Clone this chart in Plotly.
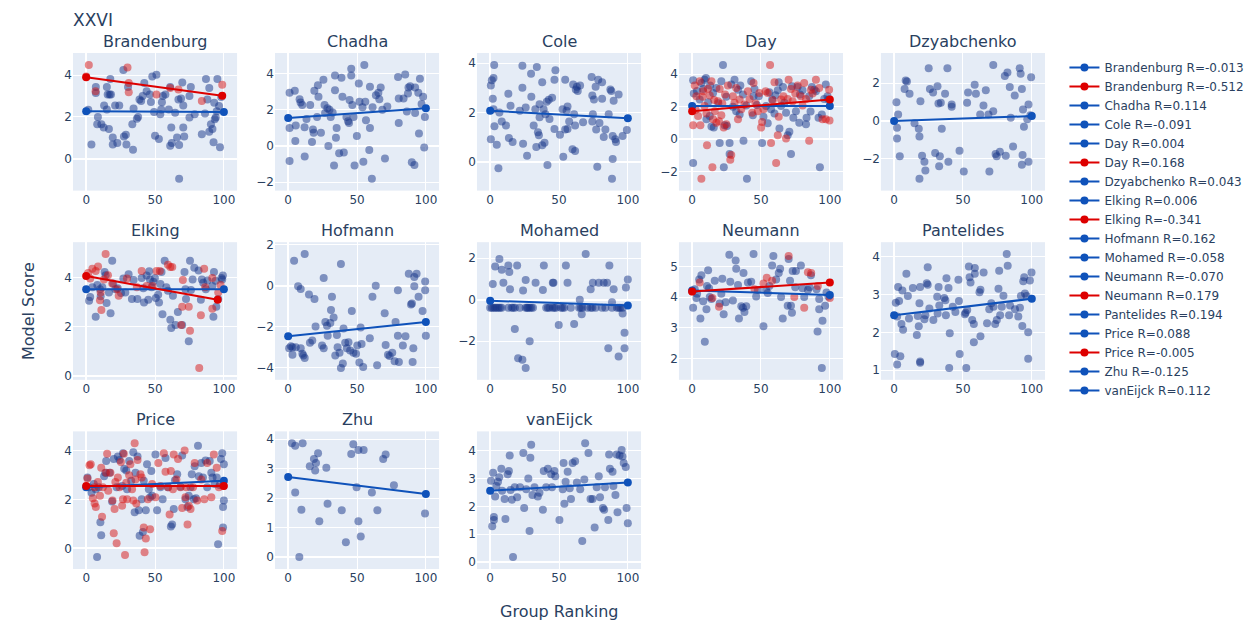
import plotly.graph_objects as go
from plotly.subplots import make_subplots

panels = ["Brandenburg", "Chadha", "Cole", "Day", "Dzyabchenko", "Elking", "Hofmann",
          "Mohamed", "Neumann", "Pantelides", "Price", "Zhu", "vanEijck"]

# ---- scatter points (Group Ranking, Model Score) ----
brandenburg_a = [(1.5,2.35),(3.8,0.68),(7,3.43),(7,3.15),(8.5,2.0),(8,1.65),(11,1.65),(12.7,1.5),(13,2.55),(15,3.43),(15.6,3.07),(17,3.07),(15,2.36),(16.5,1.42),(17.5,3.81),(18,3.07),(19.3,1.02),(19.3,0.68),(21,2.55),(22.6,0.76),(24,2.55),(27,4.25),(27.4,1.07),(28.8,1.15),(29.2,0.68),(30.4,3.43),(33.5,1.65),(34,0.44),(34.4,2.4),(36.8,1.92),(37.7,2.0),(38.7,2.83),(39.9,2.76),(41,3.0),(42.2,3.62),(43.9,3.23),(46.2,3.07),(47,2.72),(48,3.94),(49.3,2.24),(50,1.1),(51,4.02),(52.8,0.95),(53.8,2.13),(54.5,2.36),(55,2.7),(55.7,3.0),(57.5,3.07),(60,2.36),(61,3.43),(61.8,1.5),(61,0.63),(62.2,0.76),(64.6,2.2),(66,1.02),(67,2.83),(67.5,0.66),(67.5,-0.95),(68.9,2.88),(69.8,3.65),(70.5,1.5),(71.2,1.07),(70.5,2.55),(75,3.0),(76,3.43),(75,1.97),(78.8,2.13),(84,1.18),(86.3,2.17),(87,3.81),(88,2.83),(89.4,3.39),(89.4,1.29),(90.6,1.65),(91.7,1.42),(92.5,0.79),(93,2.68),(93.4,1.89),(94.1,1.97),(95.3,3.81),(96.5,2.52),(97.2,0.55),(98.1,2.96),(94.8,2.28)]
brandenburg_b = [(1.9,4.49),(0,3.94),(6.8,3.23),(30,4.36),(30.9,3.18),(30.9,3.62),(51,3.07),(61,3.39),(67,3.31),(84,2.76),(98.8,3.54)]

chadha_a = [(1,2.93),(1,0.99),(1,-0.83),(4.8,3.04),(5.5,1.12),(5.2,0.27),(8.3,2.57),(9,2.39),(10.2,2.26),(11.9,1.03),(12,-0.58),(13.3,1.48),(16,2.26),(17.3,0.22),(18,0.9),(18.5,0.72),(19,3.04),(21,1.59),(21.6,3.35),(22,2.71),(23.8,0.72),(25.6,3.65),(26.4,2.26),(26.8,1.81),(29.2,0.0),(28.5,2.08),(30,1.99),(30.9,1.59),(32.3,1.84),(33.3,-1.08),(34,3.89),(34,3.07),(34.7,0.45),(35.2,0.99),(37,-0.4),(38.7,3.76),(39.4,2.71),(40.4,-0.36),(42.3,1.59),(43.5,1.36),(44.2,1.27),(44.6,2.53),(45.8,4.25),(45.8,3.89),(46.6,2.26),(47.5,1.59),(48.2,-1.08),(49.9,0.54),(51.3,3.44),(51.8,2.44),(54,2.13),(54.6,-0.87),(55.3,4.47),(56,2.44),(56.5,1.41),(58.9,-0.22),(59.4,0.99),(59.4,3.26),(60.8,-1.81),(61.3,2.13),(63.7,2.8),(65.5,2.93),(66.2,2.57),(67.2,3.22),(68.4,1.99),(70.3,-0.69),(72,2.17),(79.8,3.8),(80.3,2.62),(80.3,1.27),(83.8,2.62),(85,3.94),(86.2,1.9),(87,2.89),(87.4,3.22),(88.6,3.29),(89.8,-0.9),(91.7,-1.05),(92.2,3.22),(92.2,1.81),(94.5,2.93),(95,0.69),(95.7,3.71),(96.9,2.31),(98,2.71),(98.8,-0.09),(99.3,1.59)]

cole_a = [(0.5,3.09),(1.2,3.31),(1.9,2.56),(2.9,3.93),(2.4,3.4),(0.5,0.91),(2.4,2.13),(3.1,1.44),(4.8,0.69),(6,-0.27),(6.7,2.0),(8.4,1.63),(11.5,1.47),(13.2,2.76),(13.6,0.96),(14.8,2.27),(16.3,0.8),(21.5,2.07),(23.4,3.89),(23.4,3.0),(23.9,0.73),(25.8,2.2),(26.8,0.24),(29.7,3.57),(29.9,2.64),(31.6,1.47),(32.8,2.13),(33.9,3.84),(33.5,0.6),(34.7,1.2),(35.4,1.07),(35.9,2.33),(35.9,1.8),(37.8,3.23),(37.8,0.67),(38.8,2.13),(39.5,0.77),(40.2,1.93),(41.1,2.43),(41.6,-0.13),(42.6,2.51),(43.1,1.73),(45,2.6),(46.7,1.33),(47.4,3.71),(46.7,3.33),(50.7,1.09),(52.6,2.13),(53.1,0.2),(54.5,3.33),(54.5,1.31),(55.5,2.07),(56.2,1.33),(56.2,2.24),(57.4,1.63),(59.8,0.51),(60.3,3.13),(61,1.93),(61.7,0.43),(62.2,2.93),(61.7,1.47),(63,3.04),(63.6,2.87),(65.3,3.09),(67.5,1.6),(73.7,3.44),(74.2,2.69),(74.2,1.63),(74.6,1.93),(75.4,2.53),(76.6,3.04),(77,1.31),(77.8,-0.2),(78.5,3.33),(79.4,1.57),(81.3,3.23),(81.3,2.56),(82.5,1.0),(83.7,1.31),(86.1,1.93),(87.3,2.93),(88,2.87),(89,1.04),(89,0.11),(88.5,-0.69),(89.7,2.47),(90.9,0.91),(91.4,0.8),(93.3,2.73),(96.2,1.04),(99.3,1.29)]

day_a = [(0.7,3.61),(1.2,2.8),(0.7,-1.46),(5.5,2.43),(6.7,3.45),(8,3.08),(9,3.65),(10,3.75),(10.4,1.22),(11.6,2.27),(12.8,1.42),(14,0.77),(15.2,2.84),(15.7,0.71),(17.6,3.14),(20,-0.24),(21.2,3.55),(22.4,4.56),(23,-1.72),(23.6,0.85),(24.8,2.6),(25.3,0.81),(27.2,-0.91),(27.2,-0.24),(28.4,3.35),(29.6,1.99),(30.8,3.65),(32,1.72),(33.3,3.04),(34.5,1.52),(36.9,2.74),(37.3,-0.1),(39.3,2.07),(39.8,-2.43),(42.9,3.55),(44.1,1.46),(44.6,2.64),(45.3,3.08),(48.4,2.64),(50.8,-0.24),(51.8,1.38),(53.7,2.03),(54.9,0.97),(56.1,2.88),(57.3,1.83),(58.1,2.43),(59.8,1.58),(62.2,3.0),(62.9,3.49),(63.4,0.65),(64.6,2.03),(67,2.23),(68.2,1.62),(69.4,0.24),(70.6,0.45),(71.8,-0.91),(72.5,3.25),(73.5,1.32),(75.4,1.72),(76.6,3.2),(77.8,1.01),(78.3,2.74),(80.2,3.0),(82.7,0.91),(83.1,1.32),(85,2.64),(87,3.2),(88.7,3.04),(89.9,2.94),(91.8,1.32),(92.8,-1.72),(94.2,1.52),(95.9,2.47),(97.1,3.35),(98.3,2.64),(99,2.43),(3.5,2.95),(13,3.3),(19,2.2),(35,3.3),(47,2.1),(60.5,2.7),(66,3.2),(86,1.7)]
day_b = [(0.7,0.85),(1.9,3.29),(3.1,2.64),(4.3,1.42),(5.5,3.55),(6.7,-2.43),(6,0.85),(8,2.94),(9,2.03),(10.4,1.58),(10.8,-0.37),(12.8,2.68),(14,3.55),(14.7,-1.72),(15.2,1.22),(16.4,1.72),(17.6,1.01),(18.8,2.33),(20,3.08),(21.2,1.46),(21.9,2.19),(22.9,0.71),(23.9,2.74),(24.8,0.91),(26,3.29),(27.7,-1.26),(28.4,-0.97),(29.6,2.64),(30.8,2.23),(32,3.14),(33.3,1.22),(34.5,2.43),(35.7,1.83),(38,2.13),(40.5,2.94),(41.7,2.47),(43.6,1.62),(44.6,3.45),(46,2.19),(47.7,1.72),(48.9,2.84),(50.1,0.71),(50.8,1.05),(51.8,1.83),(53.3,2.94),(54.9,2.84),(56.6,4.56),(57.3,-0.24),(58.6,2.39),(59.8,3.49),(61,-1.46),(62.2,0.24),(62.9,1.38),(64.6,2.43),(66.3,2.64),(68.2,0.04),(69.4,2.47),(70.1,3.65),(71.8,3.08),(73,2.33),(74.9,2.8),(76.6,3.29),(79,2.64),(80.2,2.07),(81.4,3.45),(82.7,2.47),(85,-0.1),(86.3,3.04),(87.5,2.8),(89.9,3.65),(92.3,3.14),(94.7,1.22),(97.1,1.22),(99.5,3.04),(99.8,1.15),(2.5,1.8),(7.5,2.6),(11.5,3.1),(16,2.4),(19.5,1.1)]

dzyabchenko_a = [(1.7,0.99),(2.1,-0.35),(2.1,-0.92),(2.9,0.35),(4.1,-1.86),(7.6,1.69),(8.4,2.14),(9.3,2.09),(11.2,1.44),(14.8,-0.12),(17.9,-0.4),(18.4,-0.82),(18.4,-3.04),(19.1,1.04),(20.3,-1.83),(22,-2.14),(22.7,-2.61),(25.1,2.78),(26,1.69),(28.3,1.51),(29.8,-1.69),(31.5,1.83),(32.2,0.92),(32.7,-2.38),(33.2,-1.86),(33.9,0.96),(34.6,-0.4),(37,1.44),(38.7,2.78),(39.4,-2.14),(41.8,0.87),(41.8,0.75),(47.5,-1.57),(50.6,-2.66),(53,0.96),(53.7,1.51),(58.5,1.91),(59.4,1.44),(62.5,0.35),(64.9,0.82),(66.6,1.62),(68.5,0.35),(69.2,-2.66),(72,2.96),(72,0.52),(73.7,-1.74),(74.5,-1.86),(76.8,-1.62),(80.4,2.38),(81.1,-1.83),(82.3,2.56),(84,1.79),(84.7,0.17),(86.4,-1.34),(87.6,1.34),(91.2,2.78),(91.9,2.49),(92.8,-2.31),(92.8,1.69),(93.3,-1.79),(93.6,0.61),(94.3,-0.3),(96.7,0.09),(97.6,0.87),(97.6,-2.14),(99,0.3),(99.5,2.31)]

elking_a = [(2.1,3.07),(2.9,3.22),(4.5,3.62),(6.9,2.42),(8.1,3.71),(10,3.54),(10.5,3.25),(11.7,3.62),(13.4,4.24),(14.1,4.11),(14.8,2.98),(16.5,3.4),(17.7,2.56),(18.9,4.7),(19.6,3.77),(21.2,3.54),(22.9,3.58),(25.3,3.38),(27,3.97),(28.4,3.4),(30.8,4.15),(33.2,3.14),(34.4,3.91),(37.2,3.14),(40.3,4.0),(41.5,3.58),(42,3.0),(43.9,4.1),(45.1,3.11),(45.8,4.27),(46.3,3.93),(47.5,3.62),(48.7,3.84),(49.9,4.0),(50.6,3.18),(52.3,3.31),(52.9,3.0),(53.9,3.75),(54.7,4.24),(55.4,2.52),(57,4.7),(58.2,3.62),(59.4,3.48),(61.1,2.29),(61.8,1.96),(63,3.27),(64.9,2.08),(66.6,2.61),(69.7,2.08),(71.4,4.24),(72.1,3.54),(72.5,3.14),(74.5,1.42),(75.4,4.7),(76.1,3.51),(77.3,3.93),(78.5,4.41),(81.6,4.3),(83.3,3.11),(84,3.93),(85,3.8),(86.9,3.54),(88.1,3.89),(91.6,3.67),(92.4,2.42),(92.8,4.24),(94,3.88),(94.5,2.82),(95.9,3.14),(98.3,4.0),(98.8,3.93),(99.3,4.1)]
elking_b = [(1.4,4.2),(2.9,3.97),(4.5,4.37),(6.9,4.28),(8.6,4.46),(10,3.09),(10.5,3.4),(11,2.69),(12.9,3.93),(14.1,4.97),(15.8,4.11),(18.9,3.77),(22.4,3.54),(23.6,3.27),(29.6,3.97),(36.8,3.62),(40.3,4.28),(43.9,3.67),(48.2,3.67),(51.1,4.28),(53.5,4.28),(59.4,4.54),(61.1,4.44),(62.5,4.44),(69,2.08),(69.7,2.82),(70.2,3.91),(74.5,2.82),(75.4,1.85),(82.1,0.33),(83.3,2.48),(85.7,4.37),(86.4,3.62),(91.6,2.74),(91.6,4.0),(95.9,3.4),(97.6,3.71)]

hofmann_a = [(0.7,-3.04),(1.9,-2.94),(3.1,-2.99),(3.1,-3.36),(4.3,1.22),(5.5,-2.99),(7.2,-0.03),(9.1,-0.16),(9.1,-3.04),(10.3,-3.31),(11,-3.39),(12,-3.52),(12,1.54),(15.1,-0.43),(15.8,-2.78),(17.5,-2.67),(19.1,-0.64),(19.9,-1.98),(24.6,-2.91),(25.8,0.37),(25.8,-3.04),(27,-1.76),(28.2,-1.95),(28.7,-2.43),(30.6,-1.82),(31.8,-0.54),(31.1,-1.18),(33,-1.55),(34.2,-3.39),(35.4,-2.4),(35.9,-2.99),(37.3,-3.26),(38.3,1.06),(38.3,-4.0),(39.7,-3.79),(40.2,-2.08),(41.4,-2.78),(42.6,-3.04),(43.8,-2.75),(45,-3.15),(46.2,-1.23),(47.4,-3.26),(49.3,-3.31),(50.2,-2.91),(51.7,-3.74),(52.6,-2.03),(53.3,-2.83),(54.5,-3.95),(59.3,-2.56),(61.2,-0.54),(63.6,0.0),(64.6,-3.87),(70.1,-1.34),(70.8,-2.88),(72.5,-3.36),(73.7,-3.42),(75.6,-3.26),(77.3,-3.68),(78,-1.76),(79.7,-0.22),(79.7,-2.43),(80.4,-3.71),(83.3,-2.91),(85.2,-2.46),(87.6,0.58),(89.2,-0.91),(89.9,-0.86),(90.4,-3.71),(90.9,-3.04),(91.6,-0.03),(91.6,0.42),(93.3,0.58),(94.7,-0.54),(97.6,-1.23),(99.5,-0.22),(99.5,0.21),(100,-2.43)]

mohamed_a = [(1.9,0.75),(3.6,1.59),(6.7,1.95),(8.4,1.44),(9.6,0.81),(13.2,1.64),(13.9,1.33),(14.4,0.5),(17.9,-1.41),(19.6,1.64),(20.3,-2.81),(23.4,-2.89),(23.9,0.44),(25.8,0.94),(25.8,-3.28),(28.7,-2.0),(33,0.81),(38.3,0.47),(39,1.64),(45.5,0.81),(46,0.81),(49.8,-1.22),(55,1.64),(56.2,0.81),(61,-1.17),(65.1,0.0),(66.5,-0.7),(69.4,2.19),(73,0.5),(74.6,0.81),(78.9,0.81),(82.5,0.81),(84.9,0.81),(85.8,-2.34),(86.6,1.64),(88.5,-0.12),(89.7,0.5),(93.3,-2.73),(96.2,-0.66),(97.6,-2.34),(97.6,-1.59),(98.6,0.59),(100,0.97),
             (0,-0.39),(1.2,-0.39),(2.4,-0.39),(3.6,-0.39),(4.8,-0.39),(6,-0.39),(7.2,-0.39),(8.4,-0.39),(13.2,-0.39),(15.6,-0.39),(16.7,-0.39),(18,-0.39),(21.5,-0.39),(25.8,-0.39),(26.8,-0.39),(27.5,-0.39),(28.7,-0.39),(29.9,-0.39),(31.1,-0.39),(40.7,-0.39),(41.9,-0.39),(43.1,-0.39),(45.5,-0.39),(46.7,-0.39),(47.8,-0.39),(51.4,-0.39),(52.6,-0.39),(53.8,-0.39),(58.6,-0.39),(64.6,-0.39),(65.8,-0.39),(67,-0.39),(70.6,-0.39),(73,-0.39),(74.2,-0.39),(76.6,-0.39),(81.3,-0.39),(83.7,-0.39),(88.5,-0.39),(92.1,-0.39),(93.3,-0.39),(94.5,-0.39),(96.2,-0.39)]

neumann_a = [(0.7,3.65),(1.9,4.25),(3.1,3.97),(3.6,4.11),(5.1,4.57),(6,3.3),(6.7,4.71),(8,3.86),(9.2,2.54),(10.4,3.6),(10.8,4.36),(11.6,4.87),(12.3,4.29),(12.8,4.0),(14,3.94),(16.4,4.53),(20,3.79),(21.2,4.11),(21.9,4.6),(22.9,3.44),(24.3,3.83),(27,5.38),(27.7,4.5),(29.6,3.89),(31.6,5.19),(32,4.92),(33.3,4.39),(34,3.3),(35.7,3.7),(36.9,3.65),(37.3,4.78),(38,3.51),(39.3,3.7),(40.5,4.47),(42.9,4.5),(44.6,5.4),(46.5,4.02),(47.7,4.23),(51.8,3.05),(53.7,4.23),(54.9,4.13),(56.1,4.36),(58.1,5.03),(59,5.34),(61,4.57),(62.9,4.78),(63.9,4.92),(64.6,4.0),(65.8,3.3),(69.4,3.72),(70.1,5.24),(71.1,4.53),(71.8,3.72),(72.5,3.49),(73,4.85),(74.9,4.32),(75.4,4.85),(79,5.03),(80.2,4.29),(81.4,4.0),(84.1,4.23),(85.2,4.32),(86.3,4.71),(90.4,4.25),(91.1,2.88),(92.3,3.94),(92.3,3.6),(94.2,1.69),(94.7,3.23),(96.6,3.72),(97.6,4.15),(99,4.02)]
neumann_b = [(0,4.18),(5.5,4.47),(14.7,3.97),(19.5,3.68),(45.3,4.25),(51.8,4.44),(54.2,4.63),(58.1,4.53),(70.1,5.34),(74.2,4.0),(81.4,3.65),(84.1,4.81),(86.5,4.78),(91.3,4.36),(100,3.97)]

pantelides_a = [(0.5,1.43),(1.2,2.78),(2.2,2.42),(2.2,1.15),(2.9,3.2),(3.6,2.83),(4.5,1.37),(5.3,2.22),(6,3.11),(6.5,2.07),(8.9,3.55),(10,2.96),(10.8,2.37),(13.6,3.17),(16.5,1.93),(17.2,2.43),(17.9,2.16),(18.4,2.77),(18.9,3.2),(18.9,1.23),(18.9,1.2),(22,2.35),(22.7,2.45),(23.7,3.3),(24.4,3.26),(24.4,3.72),(25.6,2.63),(28.5,2.33),(31.3,2.94),(31.6,2.5),(32.3,3.2),(32.8,2.71),(36.4,2.91),(37.2,2.85),(37.6,2.45),(38,3.43),(39.5,3.17),(40,1.06),(40.4,1.98),(42.6,2.68),(44.5,2.54),(46.7,3.39),(47.1,2.83),(47.6,1.43),(51.4,2.48),(51.9,2.52),(52.4,1.06),(53.1,2.59),(54.3,3.74),(54.8,3.46),(55.5,3.32),(56.7,2.33),(57.9,2.22),(58.6,3.7),(58.6,3.55),(57.9,1.74),(62,3.06),(62.7,3.13),(62.7,1.9),(65,3.58),(67.5,2.24),(69.1,2.61),(70.6,2.77),(72.2,2.68),(73.4,2.22),(74.6,2.33),(75.8,3.15),(76.3,3.63),(77,2.45),(78.2,2.68),(79.4,2.97),(81.8,4.07),(82.5,3.76),(83.5,2.45),(84.2,2.71),(87.8,2.61),(90.2,2.42),(91.4,2.65),(92.1,2.96),(93.1,2.17),(93.8,3.35),(94.5,3.46),(95,3.03),(96.2,2.96),(97.4,2.0),(97.4,1.3),(98.6,3.37),(99.8,3.58)]

price_a = [(0.9,2.9),(1.8,2.5),(3.9,2.28),(5.5,2.63),(7,2.42),(7.9,-0.36),(9.1,2.5),(10.3,1.07),(10.9,0.54),(13,2.95),(13.9,3.09),(14.5,3.57),(17,3.09),(18.8,1.92),(20,3.66),(22.1,2.5),(23,3.76),(24.2,3.62),(26.1,2.55),(26.7,3.89),(27.6,3.26),(29.1,3.19),(29.7,2.42),(31.2,3.57),(32.7,2.77),(34.2,3.93),(35.2,1.48),(35.8,3.09),(37.3,3.76),(38.2,1.56),(38.8,0.51),(40.3,2.01),(41.2,0.67),(41.8,2.77),(43.3,1.56),(44.2,3.44),(45.5,2.42),(46.4,2.09),(47.3,3.17),(47.9,2.15),(50.3,3.84),(51.5,1.56),(53.9,2.5),(55.5,2.01),(57.6,3.7),(59.4,2.5),(61.5,0.89),(62.4,0.98),(63.6,1.61),(64.5,2.79),(66.1,3.03),(68.5,2.52),(69.7,3.8),(72.1,2.01),(73.6,1.69),(74.5,2.15),(75.8,2.5),(76.7,3.03),(78.2,2.01),(78.8,3.36),(79.7,2.05),(81.2,4.2),(81.8,2.95),(83.6,3.49),(84.8,2.9),(86.7,3.6),(87.9,2.5),(89.7,3.57),(90.9,3.09),(91.8,2.9),(93.3,2.63),(94.8,2.9),(95.8,0.17),(97,2.59),(97.9,3.66),(98.8,3.89),(99.4,1.69),(99.4,0.85),(100,1.96),(100,3.44)]
price_b = [(0.9,2.86),(2.4,3.4),(3.3,3.44),(4.8,2.05),(6.1,2.5),(6.1,1.83),(7,1.69),(8.5,2.72),(10,2.15),(10.9,3.3),(11.5,1.29),(12.1,2.5),(14.5,3.09),(15.2,3.87),(16,2.36),(17.6,3.09),(19.1,1.96),(20,0.62),(20.6,1.61),(21.2,2.72),(22.1,0.21),(23,2.9),(24.2,2.5),(25.2,3.53),(26.1,1.74),(26.7,2.01),(27.3,3.87),(28.2,-0.27),(29.1,2.68),(29.7,2.01),(31.2,2.99),(32.1,3.44),(33.3,2.42),(34.2,1.96),(35.2,4.3),(35.8,2.82),(36.4,1.83),(37.3,3.62),(39.4,3.03),(40.3,2.9),(41.8,0.85),(42.4,-0.16),(43.3,0.4),(44.8,2.01),(46.4,0.78),(47.9,2.63),(50.3,2.09),(52.4,3.49),(53.9,2.55),(56.4,3.89),(57.6,3.13),(59.4,2.5),(60.6,1.38),(61.5,3.17),(63,2.42),(63.6,3.84),(65.5,2.82),(66.7,3.66),(68.5,2.5),(69.7,1.65),(71.5,4.0),(72.1,2.09),(72.7,2.5),(73.6,0.98),(74.5,1.74),(75.8,1.61),(77.6,2.5),(78.8,3.49),(80.6,1.96),(83.6,2.82),(85.8,2.01),(87.9,3.49),(90.9,2.09),(92.7,3.84),(94.8,3.3),(96.4,2.5),(98.8,0.71),(99.4,2.55)]

zhu_a = [(2.7,3.86),(5.1,3.78),(5.1,2.19),(9.6,1.61),(8.1,0.0),(10.5,3.86),(15.7,3.08),(18.7,3.33),(20.2,3.19),(19.6,2.94),(21.7,3.52),(22.6,1.22),(27.7,3.03),(28.6,1.81),(38.9,1.59),(41.9,0.5),(45.8,3.5),(47.3,3.83),(49.7,2.37),(51,1.22),(51,3.63),(52.7,0.7),(54.8,3.63),(60.8,2.19),(64.8,1.59),(69,3.33),(70.8,3.48),(76.8,2.44),(99.4,1.48)]

vaneijck_a = [(0.6,2.92),(1.5,1.29),(2.1,3.2),(2.7,1.62),(2.7,1.51),(3.6,2.35),(4.5,2.73),(5.7,2.88),(6.6,3.04),(8.1,3.35),(8.7,2.56),(10.5,2.26),(11.1,1.55),(12.7,3.15),(13.6,3.27),(14.2,3.82),(14.8,2.59),(15.7,2.24),(16.6,0.18),(17.8,2.68),(19.6,2.33),(21.7,2.68),(24.1,3.91),(24.7,1.94),(26.2,2.61),(27.7,3.0),(28.6,1.12),(29.2,3.74),(29.8,4.21),(30.7,2.41),(32.2,2.68),(34.6,2.35),(35.8,2.49),(38.3,1.88),(38.9,3.27),(40.7,2.68),(41.9,3.35),(44.3,3.15),(44.9,2.68),(46.7,3.27),(47.3,3.08),(50.3,1.51),(52.7,2.61),(53.3,3.55),(53.9,2.09),(54.8,2.88),(56.3,3.24),(57.8,2.65),(58.7,2.26),(59.9,3.55),(61.7,3.62),(63,2.85),(65.4,2.61),(66.9,0.76),(68.4,2.96),(69,4.26),(71.4,3.91),(72.9,2.26),(74.4,2.26),(75.9,1.24),(77.4,2.68),(78.9,3.08),(79.8,2.33),(81.9,1.94),(82.8,1.88),(83.4,2.68),(85.8,1.51),(86.4,3.86),(87,3.35),(88.9,3.24),(89.5,2.73),(91,2.41),(91.9,3.86),(92.5,1.79),(94,3.82),(95.5,4.02),(96.1,3.79),(97,3.55),(98.5,3.41),(99.1,1.94),(100,1.39)]

points_a = [brandenburg_a, chadha_a, cole_a, day_a, dzyabchenko_a, elking_a, hofmann_a,
            mohamed_a, neumann_a, pantelides_a, price_a, zhu_a, vaneijck_a]
points_b = {"Brandenburg": brandenburg_b, "Day": day_b, "Elking": elking_b,
            "Neumann": neumann_b, "Price": price_b}

# ---- fitted trend lines: (x0, x1, y0, y1) and correlation labels ----
trend_a = [(0,100,2.28,2.24),(0,100,1.54,2.08),(0,100,2.07,1.76),(0,100,2.03,2.03),(0,100,0.0,0.26),
           (0,100,3.54,3.54),(0,100,-2.46,-1.76),(0,100,-0.05,-0.28),(0,100,4.21,4.07),(0,100,2.45,2.89),
           (0,100,2.5,2.77),(0,100,2.72,2.14),(0,100,2.56,2.85)]
r_a = [-0.013, 0.114, -0.091, 0.004, 0.043, 0.006, 0.162, -0.058, -0.070, 0.194, 0.088, -0.125, 0.112]
trend_b = {"Brandenburg": (0,98.8,3.9,3.02), "Day": (0,100,1.72,2.43), "Elking": (0,95.5,4.08,3.11),
           "Neumann": (0,100,4.18,4.47), "Price": (0,100,2.55,2.55)}
r_b = {"Brandenburg": -0.512, "Day": 0.168, "Elking": -0.341, "Neumann": 0.179, "Price": -0.005}

BLUE_PT = "rgb(22,52,135)"
RED_PT = "rgb(215,20,20)"
BLUE_LN = "#0f52ba"
RED_LN = "#dd0000"
FONT = "DejaVu Sans, Verdana, sans-serif"

specs = [[{}]*5, [{}]*5, [{}, {}, {}, None, None]]
fig = make_subplots(rows=3, cols=5, specs=specs, subplot_titles=panels,
                    horizontal_spacing=0.039, vertical_spacing=0.1)

for i, name in enumerate(panels):
    r, c = i // 5 + 1, i % 5 + 1
    xa = [p[0] for p in points_a[i]]
    ya = [p[1] for p in points_a[i]]
    fig.add_trace(go.Scatter(x=xa, y=ya, mode="markers", showlegend=False, hoverinfo="skip",
                             marker=dict(color=BLUE_PT, size=8, opacity=0.5, line=dict(width=0))),
                  row=r, col=c)
    if name in points_b:
        xb = [p[0] for p in points_b[name]]
        yb = [p[1] for p in points_b[name]]
        fig.add_trace(go.Scatter(x=xb, y=yb, mode="markers", showlegend=False, hoverinfo="skip",
                                 marker=dict(color=RED_PT, size=8, opacity=0.5, line=dict(width=0))),
                      row=r, col=c)
    x0, x1, y0, y1 = trend_a[i]
    fig.add_trace(go.Scatter(x=[x0, x1], y=[y0, y1], mode="lines+markers",
                             name=f"{name} R={r_a[i]:.3f}",
                             line=dict(color=BLUE_LN, width=2), marker=dict(color=BLUE_LN, size=8)),
                  row=r, col=c)
    if name in trend_b:
        x0, x1, y0, y1 = trend_b[name]
        fig.add_trace(go.Scatter(x=[x0, x1], y=[y0, y1], mode="lines+markers",
                                 name=f"{name} R={r_b[name]:.3f}",
                                 line=dict(color=RED_LN, width=2), marker=dict(color=RED_LN, size=8)),
                      row=r, col=c)

fig.update_xaxes(tickvals=[0, 50, 100], zeroline=True)
fig.update_yaxes(zeroline=True)
for ann in fig.layout.annotations:
    ann.font = dict(size=16, family=FONT)

fig.add_annotation(text="Group Ranking", xref="paper", yref="paper", x=0.5, y=0, yshift=-42,
                   showarrow=False, yanchor="middle", font=dict(size=16, family=FONT))
fig.add_annotation(text="Model Score", xref="paper", yref="paper", x=0, y=0.5, xshift=-45,
                   showarrow=False, textangle=-90, xanchor="center", font=dict(size=16, family=FONT))

fig.update_layout(
    width=1256, height=621,
    template="plotly",
    font=dict(family=FONT, size=12),
    title=dict(text="XXVI", x=0, xref="paper", xanchor="left", y=1 - 12/621, yref="container",
               yanchor="middle", font=dict(size=17, family=FONT)),
    margin=dict(l=65, r=219, t=45, b=60),
    legend=dict(font=dict(size=12, family=FONT)),
)

fig.write_html("out.html")
